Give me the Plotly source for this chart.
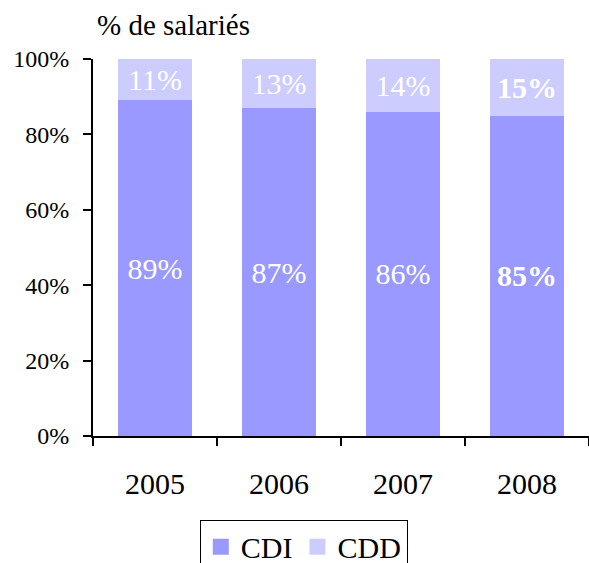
import plotly.graph_objects as go

years = ["2005", "2006", "2007", "2008"]
cdi = [89, 87, 86, 85]
cdd = [11, 13, 14, 15]
y_ticks = [0, 20, 40, 60, 80, 100]
y_tick_labels = ["0%", "20%", "40%", "60%", "80%", "100%"]

FONT = "Liberation Serif"
CDI_COLOR = "#9999FF"
CDD_COLOR = "#CCCCFF"


def labels(values):
    out = []
    for i, v in enumerate(values):
        t = f"{v}%"
        # the latest year is highlighted in bold
        out.append(f"<b>{t}</b>" if i == len(values) - 1 else t)
    return out


fig = go.Figure()
for name, vals, color in (("CDI", cdi, CDI_COLOR), ("CDD", cdd, CDD_COLOR)):
    fig.add_trace(go.Bar(
        name=name, x=years, y=vals, legendgroup=name, showlegend=False,
        marker=dict(color=color, line=dict(width=0)),
        text=labels(vals), textposition="inside", insidetextanchor="middle",
        textfont=dict(color="white", size=30, family=FONT), constraintext="none",
    ))
# legend keys drawn as larger square swatches
for name, color in (("CDI", CDI_COLOR), ("CDD", CDD_COLOR)):
    fig.add_trace(go.Scatter(
        name=name, x=[None], y=[None], mode="markers", legendgroup=name,
        marker=dict(symbol="square", size=20, color=color),
    ))

fig.update_layout(
    width=589, height=563,
    barmode="stack", bargap=0.41,
    plot_bgcolor="white", paper_bgcolor="white",
    margin=dict(l=93, r=0, t=59, b=127, autoexpand=False),
    font=dict(family=FONT, color="black", size=30),
    showlegend=True,
    legend=dict(
        orientation="h", traceorder="normal",
        x=0.425, xanchor="center", y=-0.222, yanchor="top",
        bordercolor="black", borderwidth=1, font=dict(size=30),
        itemwidth=30,
    ),
)
fig.update_xaxes(
    type="category", tickson="boundaries", ticks="outside", ticklen=8, tickwidth=2,
    tickcolor="black", showline=True, linecolor="black", linewidth=2,
    showgrid=False, tickfont=dict(size=30), ticklabelstandoff=20,
)
fig.update_yaxes(
    range=[0, 100], tickvals=y_ticks, ticktext=y_tick_labels,
    ticks="outside", ticklen=8, tickwidth=2, tickcolor="black",
    showline=True, linecolor="black", linewidth=2, showgrid=False,
    zeroline=False, tickfont=dict(size=24), ticklabelstandoff=9,
)
fig.add_annotation(
    text="% de salariés", xref="paper", yref="paper", x=0.005, y=1.09,
    xanchor="left", yanchor="middle", showarrow=False, font=dict(size=29),
)

fig.write_html("out.html")
